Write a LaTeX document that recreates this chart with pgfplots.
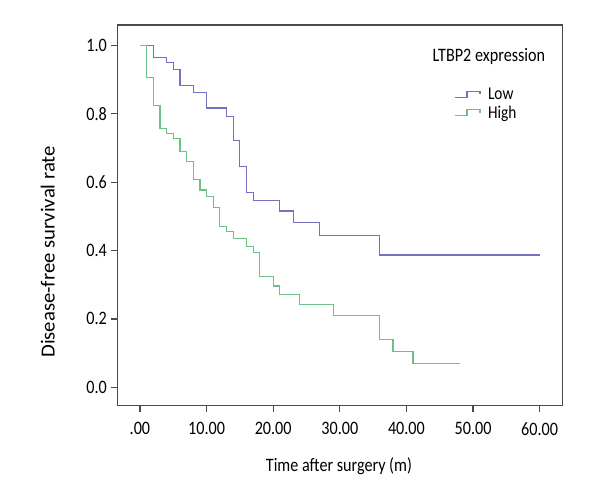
\documentclass[border=0pt]{standalone}
\usepackage{fontspec}
\setmainfont{Carlito}[FakeStretch=0.85]
\usepackage{pgfplots}
\pgfplotsset{compat=1.18}
\definecolor{lowc}{HTML}{7272C2}
\definecolor{highc}{HTML}{6CC284}
\definecolor{axc}{HTML}{4A4A4A}
\begin{document}
\begin{tikzpicture}
\begin{axis}[
  scale only axis,
  width=445pt, height=380.7pt,
  xmin=-3.4, xmax=63.4, ymin=-0.054, ymax=1.06,
  axis line style={axc, line width=1.3pt},
  xtick={0,10,20,30,40,50,60},
  xticklabels={.00,10.00,20.00,30.00,40.00,50.00,60.00},
  ytick={0,0.2,0.4,0.6,0.8,1.0},
  yticklabels={0.0,0.2,0.4,0.6,0.8,1.0},
  xtick pos=bottom, ytick pos=left,
  tick align=outside,
  major tick length=6pt,
  tick style={axc, line width=1.3pt},
  every tick label/.append style={font=\fontsize{19}{22}\selectfont, text=black},
  xticklabel style={yshift=-7pt},
  yticklabel style={xshift=-1pt},
  xlabel={Time after surgery (m)},
  ylabel={Disease-free survival rate},
  xlabel style={font=\fontsize{19}{22}\selectfont, at={(axis description cs:0.498,-0.158)}, anchor=center},
  ylabel style={font=\fontsize{20}{24}\selectfont, at={(axis description cs:-0.156,0.404)}, anchor=center, xscale=1.22},
  legend style={at={(axis description cs:0.757,0.837)}, anchor=north west,
    draw=none, fill=none, inner sep=0pt, row sep=4pt,
    font=\fontsize{18}{20}\selectfont,
    nodes={inner sep=0.5pt, anchor=west}},
  legend cell align=left,
  legend image code/.code={\draw[#1] (0pt,-3pt) -- (12pt,-3pt) -- (12pt,3pt) -- (25pt,3pt) -- (25pt,0pt);},
]
\addplot[const plot, lowc, line width=1.2pt] coordinates {
(0,1) (2,0.965) (4,0.95) (5,0.93) (6,0.882) (8,0.863) (10,0.817) (13,0.792)
(14,0.722) (15,0.646) (16,0.570) (17,0.546) (21,0.516) (23,0.483) (27,0.443)
(36,0.387) (60,0.387)};
\addlegendentry{\hspace*{7pt}Low}
\addplot[const plot, highc, line width=1.2pt] coordinates {
(0,1) (1,0.907) (2,0.824) (3,0.758) (4,0.743) (5,0.727) (6,0.69) (7,0.66)
(8,0.609) (9,0.577) (10,0.558) (11,0.526) (12,0.471) (13,0.455) (14,0.436)
(16,0.413) (17,0.395) (18,0.324) (20,0.296) (21,0.272) (24,0.241) (29,0.21)
(36,0.14) (38,0.104) (41,0.07) (48,0.07)};
\addlegendentry{\hspace*{7pt}High}
\node[font=\fontsize{19}{22}\selectfont, anchor=center] at (axis description cs:0.835,0.916) {LTBP2 expression};
\end{axis}
\pgfresetboundingbox
\path[use as bounding box] ([shift={(-117.3pt,-94.3pt)}]current axis.south west) rectangle ([shift={(482.7pt,405.7pt)}]current axis.south west);
\end{tikzpicture}
\end{document}
